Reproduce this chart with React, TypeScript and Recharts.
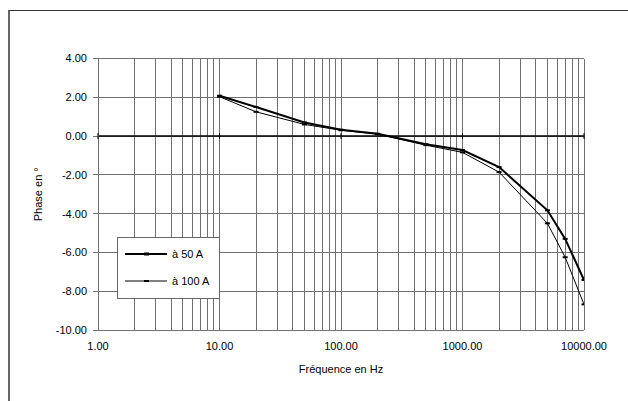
import { LineChart, Line, XAxis, YAxis, CartesianGrid, ReferenceLine, ReferenceDot } from 'recharts'

const freqs = [10, 20, 50, 100, 200, 500, 1000, 2000, 5000, 7000, 10000]
const phase50 = [2.08, 1.5, 0.7, 0.33, 0.12, -0.42, -0.72, -1.6, -3.83, -5.3, -7.42]
const phase100 = [2.03, 1.25, 0.6, 0.3, 0.1, -0.47, -0.84, -1.86, -4.5, -6.25, -8.68]
const seriesNames = ['à 50 A', 'à 100 A']
const decades = [1, 10, 100, 1000, 10000]
const yTicks = [-10, -8, -6, -4, -2, 0, 2, 4]

// all log grid positions: 1..9 in each decade, then 10000
const xGrid = [1, 10, 100, 1000].flatMap((d) => [1, 2, 3, 4, 5, 6, 7, 8, 9].map((m) => m * d)).concat([10000])

const data = freqs.map((f, i) => ({ f, a50: phase50[i], a100: phase100[i] }))

const FONT = '"Liberation Sans", Arial, sans-serif'
const GRID = '#707070'

const dash = (w: number) => (p: any) => {
  if (p.cx == null || p.cy == null) return <g key={p.key} />
  return <line key={p.key} x1={p.cx - 2.5} x2={p.cx + 2.5} y1={p.cy} y2={p.cy} stroke="#000" strokeWidth={w} />
}

const zeroTick = (p: any) => (
  <line x1={p.cx} x2={p.cx} y1={p.cy - 3} y2={p.cy + 3} stroke="#000" strokeWidth={1} />
)

function ChartLegend() {
  return (
    <div
      style={{
        position: 'absolute',
        left: 117,
        top: 237,
        width: 103,
        height: 62,
        boxSizing: 'border-box',
        border: '1px solid #666',
        background: '#fff',
        fontFamily: FONT,
        fontSize: 11,
        color: '#000',
      }}
    >
      {seriesNames.map((name, i) => (
        <div key={name} style={{ position: 'absolute', left: 7, top: 9 + i * 27, height: 14, display: 'flex', alignItems: 'center' }}>
          <svg width={44} height={8} style={{ display: 'block' }}>
            <line x1={0} x2={42} y1={4} y2={4} stroke="#000" strokeWidth={i === 0 ? 2 : 1} />
            <line x1={19} x2={24} y1={4} y2={4} stroke="#000" strokeWidth={i === 0 ? 3 : 2} />
          </svg>
          <span style={{ marginLeft: 3 }}>{name}</span>
        </div>
      ))}
    </div>
  )
}

export default function App() {
  return (
    <div style={{ position: 'absolute', left: 0, top: 0, width: 628, height: 401, background: '#fff', overflow: 'hidden' }}>
      <div
        style={{
          position: 'absolute',
          left: 8,
          top: 10,
          width: 700,
          height: 500,
          borderTop: '1px solid #333',
          borderLeft: '2px solid #666',
        }}
      />
      <div style={{ position: 'absolute', left: 0, top: 0 }}>
        <LineChart width={628} height={401} data={data} margin={{ top: 58.5, right: 44, left: 0, bottom: 21 }}>
          <CartesianGrid stroke={GRID} strokeWidth={1} shapeRendering="crispEdges" />
          <XAxis
            dataKey="f"
            type="number"
            scale="log"
            domain={[1, 10000]}
            ticks={xGrid}
            interval={0}
            allowDataOverflow
            axisLine={false}
            tickLine={false}
            tickSize={6}
            tickMargin={6}
            height={50}
            tick={{ fontSize: 11, fill: '#000', fontFamily: FONT }}
            tickFormatter={(v: number) => (decades.includes(v) ? v.toFixed(2) : '')}
            label={{
              content: (p: any) => {
                const vb = p.viewBox || {}
                return (
                  <text x={vb.x + vb.width / 2} y={370} textAnchor="middle" dominantBaseline="middle" fontSize={11} fontFamily={FONT} fill="#000">
                    Fréquence en Hz
                  </text>
                )
              },
            }}
          />
          <YAxis
            type="number"
            domain={[-10, 4]}
            ticks={yTicks}
            interval={0}
            width={98}
            axisLine={{ stroke: GRID, shapeRendering: 'crispEdges' }}
            tickLine={{ stroke: GRID, shapeRendering: 'crispEdges' }}
            tickSize={5}
            tickMargin={6}
            tick={{ fontSize: 11, fill: '#000', fontFamily: FONT }}
            tickFormatter={(v: number) => v.toFixed(2)}
            label={{
              content: (p: any) => {
                const vb = p.viewBox || {}
                const cy = vb.y + vb.height / 2
                return (
                  <text x={39} y={cy} transform={`rotate(-90, 39, ${cy})`} textAnchor="middle" dominantBaseline="middle" fontSize={11} fontFamily={FONT} fill="#000">
                    Phase en °
                  </text>
                )
              },
            }}
          />
          <ReferenceLine y={0} stroke="#000" strokeWidth={1.5} />
          {decades.map((d) => (
            <ReferenceDot key={d} x={d} y={0} shape={zeroTick} />
          ))}
          <Line dataKey="a50" name={seriesNames[0]} stroke="#000" strokeWidth={2} dot={dash(2)} isAnimationActive={false} />
          <Line dataKey="a100" name={seriesNames[1]} stroke="#000" strokeWidth={1} dot={dash(2)} isAnimationActive={false} />
        </LineChart>
      </div>
      <ChartLegend />
    </div>
  )
}
